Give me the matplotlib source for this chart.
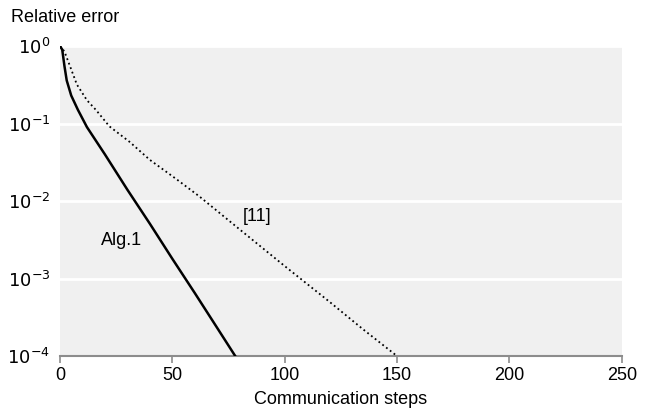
import matplotlib
matplotlib.use("Agg")
import matplotlib.pyplot as plt

# Alg.1 convergence
alg_steps = [0, 1, 2, 3, 5, 8, 12, 20, 30, 40, 50, 60, 70, 78]
alg_err = [1.0, 0.9, 0.55, 0.36, 0.23, 0.15, 0.09, 0.040, 0.014, 0.0051,
           0.0018, 0.00065, 0.00023, 0.0001]

# reference [11]
ref_steps = [0, 2, 5, 7.5, 12, 16, 22, 31, 40, 52, 62, 80, 100, 120, 135, 150]
ref_err = [1.0, 0.85, 0.5, 0.32, 0.2, 0.15, 0.092, 0.058, 0.034, 0.019,
           0.0115, 0.0043, 0.00145, 0.0005, 0.00022, 0.0001]

plt.rcParams["font.family"] = ["Liberation Sans", "DejaVu Sans"]
plt.rcParams["mathtext.fontset"] = "dejavusans"

fs = 13

fig = plt.figure(figsize=(6.47, 4.15), dpi=100)
ax = fig.add_axes([0.0927, 0.142, 0.8683, 0.747])
ax.set_facecolor("#f0f0f0")

ax.plot(alg_steps, alg_err, color="black", linewidth=1.8, zorder=3)
ax.plot(ref_steps, ref_err, color="black", linestyle=":", linewidth=1.3, zorder=3)

ax.set_yscale("log")
ax.set_xlim(0, 250)
ax.set_ylim(1e-4, 1)
ax.set_xticks([0, 50, 100, 150, 200, 250])
ax.set_yticks([1, 1e-1, 1e-2, 1e-3, 1e-4])
ax.set_yticklabels([r"$10^{0}$", r"$10^{-1}$", r"$10^{-2}$", r"$10^{-3}$", r"$10^{-4}$"])
ax.minorticks_off()
ax.grid(True, axis="y", color="white", linewidth=2, zorder=1)

for s in ("top", "right", "left"):
    ax.spines[s].set_visible(False)
ax.spines["bottom"].set_color("#8c8c8c")
ax.spines["bottom"].set_linewidth(1.5)
ax.tick_params(axis="x", colors="#8c8c8c", length=5, width=1.2, labelsize=fs,
               labelcolor="black", pad=3)
ax.tick_params(axis="y", length=0, labelsize=fs, pad=7)

ax.set_xlabel("Communication steps", fontsize=fs, labelpad=5)
fig.text(0.017, 0.958, "Relative error", fontsize=fs, va="center", ha="left")

ax.text(87.6, 0.0064, "[11]", fontsize=fs, ha="center", va="center")
ax.text(27.4, 0.0031, "Alg.1", fontsize=fs, ha="center", va="center")

fig.savefig("out.png", dpi=100)
